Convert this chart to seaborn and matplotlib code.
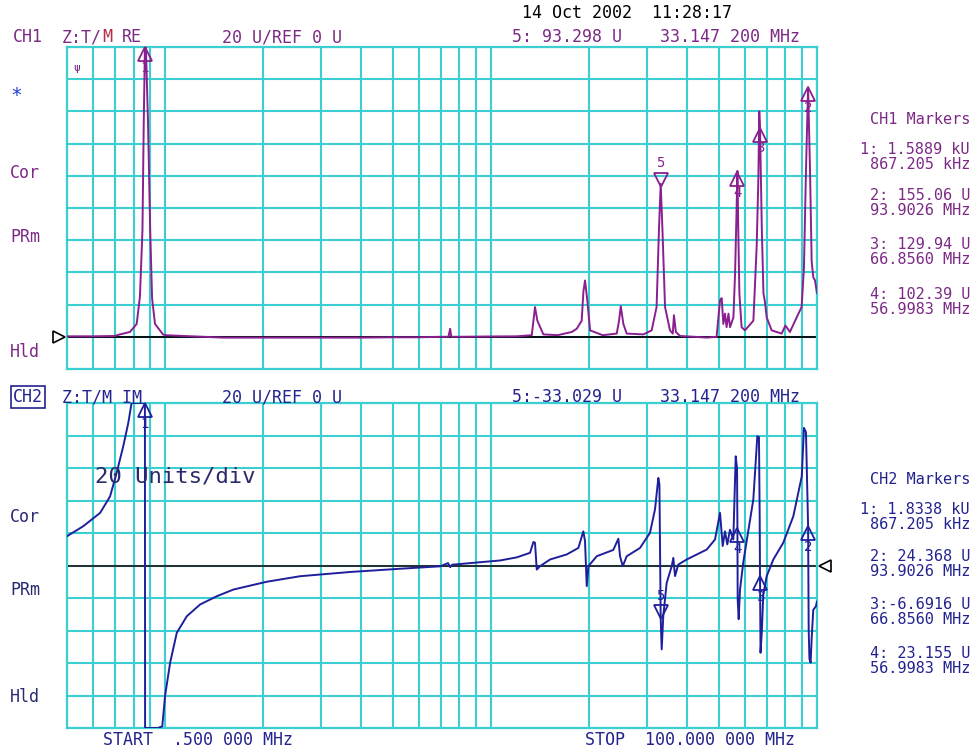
import numpy as np
import pandas as pd
import matplotlib
matplotlib.use("Agg")
import matplotlib.pyplot as plt
import matplotlib.transforms as mtransforms
import seaborn as sns

# ---- trace data (MHz, Units) ----
ch1_freq = [0.5, 0.6, 0.7, 0.727, 0.78, 0.818, 0.837, 0.852, 0.860, 0.867, 0.873, 0.886,
            0.90, 0.912, 0.931, 0.985, 1.0, 1.5, 2.0, 3.0, 4.0, 5.0, 6.0, 7.0, 7.40, 7.49,
            7.55, 8.0, 10.0, 12.0, 13.33, 13.49, 13.64, 13.87, 14.47, 16.0, 17.68, 18.32,
            18.97, 19.2, 19.42, 19.55, 19.75, 20.13, 22.0, 24.30, 24.70, 25.0, 25.46, 26.07,
            29.33, 31.1, 32.2, 32.76, 33.15, 33.54, 34.18, 35.4, 36.1, 36.4, 36.9, 38.0,
            42.0, 45.9, 49.2, 50.4, 51.0, 51.6, 52.2, 52.8, 53.5, 54.1, 55.4, 56.05, 56.6,
            57.0, 57.3, 57.8, 58.7, 60.1, 63.8, 65.3, 66.1, 66.5, 66.86, 67.7, 68.5, 69.2,
            70.1, 72.6, 77.9, 80.0, 82.6, 86.6, 89.7, 91.2, 92.5, 93.9, 95.2, 96.3, 97.4,
            98.6, 100.0]
ch1_re = [0.3, 0.3, 0.5, 1.5, 3.0, 8.0, 25.0, 66.0, 134.0, 1588.9, 600.0, 134.0,
          66.0, 24.0, 8.0, 1.5, 1.0, -0.5, -0.5, -0.5, -0.5, -0.3, -0.3, 0.0, 0.0, 5.0,
          0.0, 0.0, 0.2, 0.3, 1.0, 10.0, 18.5, 10.0, 1.5, 1.0, 3.0, 5.0,
          10.0, 28.0, 35.0, 30.0, 22.0, 4.0, 1.0, 2.0, 10.0, 19.0, 8.0, 2.0,
          1.5, 4.0, 18.5, 68.0, 95.0, 68.0, 18.5, 4.0, 2.0, 13.4, 3.0, 0.5,
          0.0, -0.5, 0.0, 22.7, 24.0, 8.0, 14.4, 6.0, 14.4, 6.0, 12.0, 39.0, 75.0,
          103.0, 70.0, 26.8, 6.0, 4.0, 10.0, 56.0, 99.0, 140.0, 129.9, 68.0, 27.0, 22.0,
          12.0, 4.0, 2.0, 7.0, 3.0, 12.0, 18.5, 43.0, 103.0, 155.0, 103.0, 47.0, 37.0,
          35.0, 27.0]

ch2_freq = [0.5, 0.561, 0.632, 0.678, 0.710, 0.744, 0.771, 0.789, 0.82, 0.85, 0.867,
            0.868, 0.90, 0.95, 0.980, 1.0, 1.036, 1.086, 1.166, 1.280, 1.441, 1.620, 2.05,
            2.595, 3.69, 5.26, 6.98, 7.38, 7.49, 7.6, 10.66, 11.99, 13.17, 13.49, 13.64,
            13.81, 14.14, 15.17, 17.07, 18.53, 19.19, 19.42, 19.66, 19.89, 21.1, 23.72,
            24.58, 24.87, 25.35, 26.08, 28.64, 30.73, 31.84, 32.6, 32.85, 33.15, 33.38,
            33.76, 34.58, 35.84, 36.24, 36.68, 37.54, 39.84, 45.88, 48.65, 50.4, 51.37,
            52.2, 53.06, 54.08, 55.37, 56.31, 56.83, 57.0, 57.1, 57.51, 58.04, 59.41,
            63.77, 65.6, 66.37, 66.7, 66.86, 67.1, 67.66, 68.44, 70.1, 73.45, 78.8, 84.6,
            89.8, 91.2, 92.5, 93.4, 93.9, 94.3, 94.8, 95.6, 96.3, 97.4, 99.3, 100.0]
ch2_im = [18.0, 24.2, 32.4, 42.6, 57.0, 73.4, 87.8, 101.0, 250.0, 700.0, 1833.8,
          -2000.0, -400.0, -160.0, -99.0, -80.0, -59.8, -41.4, -31.2, -24.0, -18.9, -14.8, -10.0,
          -6.6, -4.0, -2.0, -0.5, 1.5, -1.0, 0.5, 3.1, 5.0, 7.8, 14.5, 14.0,
          -2.5, -0.4, 3.7, 6.8, 10.8, 21.0, 15.0, -12.7, -0.4, 5.7, 9.6,
          16.5, 5.7, -0.4, 5.7, 10.8, 20.1, 34.5, 53.9, 50.0, -33.0, -51.6,
          -31.0, -10.7, -0.4, 4.7, -6.5, 0.6, 3.7, 9.8, 16.0, 32.4, 12.0,
          21.0, 13.0, 22.0, 16.0, 67.2, 60.0, 23.2, -20.9, -33.0, -15.0, 2.0,
          40.6, 79.5, 79.0, 30.0, -6.7, -53.7, -42.0, -18.0, -6.5, 3.7, 14.0, 30.3,
          54.9, 84.7, 82.0, 45.0, 24.4, -40.0, -57.5, -59.8, -45.0, -27.3, -25.0, -22.0]

# marker readouts
mk_freq = [0.867205, 93.9026, 66.8560, 56.9983, 33.1472]
ch1_mk = [1588.9, 155.06, 129.94, 102.39, 93.298]
ch2_mk = [1833.8, 24.368, -6.6916, 23.155, -33.029]
mk_names = ["1", "2", "3", "4", "5"]

ch1_lines = ["1: 1.5889 kU\n867.205 kHz", "2: 155.06 U\n93.9026 MHz",
             "3: 129.94 U\n66.8560 MHz", "4: 102.39 U\n56.9983 MHz"]
ch2_lines = ["1: 1.8338 kU\n867.205 kHz", "2: 24.368 U\n93.9026 MHz",
             "3:-6.6916 U\n66.8560 MHz", "4: 23.155 U\n56.9983 MHz"]

grid_freqs = [0.5, 0.6, 0.7, 0.8, 0.9, 1, 2, 3, 4, 5, 6, 7, 8, 9, 10,
              20, 30, 40, 50, 60, 70, 80, 90, 100]

sns.set_style("white")
plt.rcParams['font.family'] = ['DejaVu Sans Mono', 'DejaVu Sans']

CYAN = "#3ccfd2"
PURPLE = "#8a1f8f"
NAVY = "#1f1f9c"
TXT1 = "#7d2a86"
TXT2 = "#23238f"

fig = plt.figure(figsize=(9.74, 7.5), dpi=100)
W, H = 974.0, 750.0
ax1 = fig.add_axes([67 / W, 1 - 369 / H, 750 / W, 322 / H])
ax2 = fig.add_axes([67 / W, 1 - 728 / H, 750 / W, 325 / H])


def setup(ax, lo, hi):
    ax.set_xscale("log")
    ax.set_xlim(0.5, 100)
    ax.set_ylim(lo, hi)
    ax.set_xticks(grid_freqs)
    ax.set_xticks([], minor=True)
    ax.set_yticks(np.linspace(lo, hi, 11))
    ax.set_xticklabels([])
    ax.set_yticklabels([])
    ax.tick_params(length=0)
    ax.grid(True, color=CYAN, lw=1.5)
    for s in ax.spines.values():
        s.set_color(CYAN)
        s.set_linewidth(1.6)


setup(ax1, -20, 180)
setup(ax2, -100, 100)

# the analyzer clamps the trace at the screen edge
df1 = pd.DataFrame({"freq": ch1_freq, "val": np.clip(ch1_re, -20, 180)})
df2 = pd.DataFrame({"freq": ch2_freq, "val": np.clip(ch2_im, -100, 100)})

ax1.axhline(0, color="black", lw=1.3, zorder=2)
ax2.axhline(0, color="#222222", lw=1.3, zorder=2)
sns.lineplot(data=df1, x="freq", y="val", ax=ax1, color=PURPLE, lw=1.4,
             estimator=None, sort=False, zorder=3)
sns.lineplot(data=df2, x="freq", y="val", ax=ax2, color=NAVY, lw=1.4,
             estimator=None, sort=False, zorder=3)
for ax in (ax1, ax2):
    ax.set_xlabel("")
    ax.set_ylabel("")

# reference position arrows
ax1.plot([0.5], [0], marker=">", ms=8, mfc="white", mec="black", mew=1.2,
         clip_on=False, zorder=5, transform=mtransforms.offset_copy(ax1.transData, fig, x=-6, units="points"))
ax2.plot([100], [0], marker="<", ms=8, mfc="white", mec="black", mew=1.2,
         clip_on=False, zorder=5, transform=mtransforms.offset_copy(ax2.transData, fig, x=6, units="points"))


def draw_markers(ax, vals, lo, hi, color):
    for f, v, name in zip(mk_freq, vals, mk_names):
        y = min(max(v, lo), hi)
        if name == "5":
            tr = mtransforms.offset_copy(ax.transData, fig, y=5, units="points")
            ax.plot([f], [y], marker="v", ms=10, mfc="none", mec=color, mew=1.3,
                    transform=tr, clip_on=False, zorder=6)
            ax.annotate(name, (f, y), xytext=(0, 12), textcoords="offset points",
                        ha="center", va="bottom", fontsize=10, color=color)
        else:
            tr = mtransforms.offset_copy(ax.transData, fig, y=-5, units="points")
            ax.plot([f], [y], marker="^", ms=10, mfc="none", mec=color, mew=1.3,
                    transform=tr, clip_on=False, zorder=6)
            ax.annotate(name, (f, y), xytext=(0, -10), textcoords="offset points",
                        ha="center", va="top", fontsize=10, color=color)


draw_markers(ax1, ch1_mk, -20, 180, PURPLE)
draw_markers(ax2, ch2_mk, -100, 100, NAVY)


def ftext(x, y, s, **kw):
    kw.setdefault("fontsize", 12)
    kw.setdefault("va", "center")
    fig.text(x / W, 1 - y / H, s, **kw)


# header
ftext(522, 13, "14 Oct 2002  11:28:17", color="black")
ftext(13, 37, "CH1", color=TXT1)
ftext(62, 37, "Z:T/", color=TXT1)
ftext(102, 37, "M", color="#b0304a")
ftext(122, 37, "RE", color=TXT1)
ftext(222, 37, "20 U/REF 0 U", color=TXT1)
ftext(512, 37, "5: 93.298 U", color=TXT1)
ftext(660, 37, "33.147 200 MHz", color=TXT1)

ftext(13, 397, "CH2", color=TXT2,
      bbox=dict(boxstyle="square,pad=0.1", fc="none", ec=TXT2, lw=1.2))
ftext(62, 397, "Z:T/M IM", color=TXT2)
ftext(222, 397, "20 U/REF 0 U", color=TXT2)
ftext(512, 397, "5:-33.029 U", color=TXT2)
ftext(660, 397, "33.147 200 MHz", color=TXT2)

# side annotations
ftext(73, 68, "ψ", color=TXT1, fontsize=8)
ftext(10, 96, "*", color="#1f3fd0", fontsize=14)
for yy, s in [(173, "Cor"), (237, "PRm"), (352, "Hld")]:
    ftext(10, yy, s, color=TXT1)
for yy, s in [(517, "Cor"), (590, "PRm"), (697, "Hld")]:
    ftext(10, yy, s, color="#2a2a70")

ftext(95, 476, "20 Units/div", color="#2a2a6a", fontsize=16)
ftext(103, 740, "START  .500 000 MHz", color=TXT2)
ftext(585, 740, "STOP  100.000 000 MHz", color=TXT2)

# marker readout panels
ftext(970, 120, "CH1 Markers", color=TXT1, ha="right", fontsize=11)
for yy, s in zip([157, 203, 252, 302], ch1_lines):
    ftext(970, yy, s, color=TXT1, ha="right", ma="right", fontsize=11, linespacing=0.95)
ftext(970, 480, "CH2 Markers", color=TXT2, ha="right", fontsize=11)
for yy, s in zip([517, 564, 612, 661], ch2_lines):
    ftext(970, yy, s, color=TXT2, ha="right", ma="right", fontsize=11, linespacing=0.95)

fig.savefig("out.png", dpi=100, facecolor="white")
